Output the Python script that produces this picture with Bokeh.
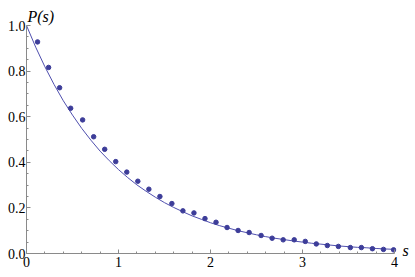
from bokeh.plotting import figure
from bokeh.models import Range1d, FixedTicker, Label, CustomJSTickFormatter, LinearAxis
from bokeh.embed import file_html
from bokeh.resources import INLINE

# ---- data ----
s_points = [0.12, 0.24, 0.36, 0.48, 0.61, 0.73, 0.85, 0.97, 1.09, 1.21, 1.33,
            1.45, 1.58, 1.70, 1.82, 1.94, 2.06, 2.18, 2.30, 2.42, 2.55, 2.67,
            2.79, 2.91, 3.03, 3.15, 3.27, 3.39, 3.52, 3.64, 3.76, 3.88, 3.99]
p_points = [0.928, 0.816, 0.727, 0.637, 0.586, 0.512, 0.457, 0.403, 0.357, 0.317, 0.282,
            0.250, 0.219, 0.187, 0.178, 0.153, 0.137, 0.114, 0.101, 0.092, 0.079, 0.067,
            0.060, 0.060, 0.053, 0.042, 0.035, 0.031, 0.026, 0.026, 0.021, 0.018, 0.016]

s_curve = [0.0, 0.1, 0.2, 0.3, 0.4, 0.5, 0.6, 0.7, 0.8, 0.9, 1.0, 1.1, 1.2, 1.3,
           1.4, 1.5, 1.6, 1.7, 1.8, 1.9, 2.0, 2.1, 2.2, 2.3, 2.4, 2.5, 2.6, 2.7,
           2.8, 2.9, 3.0, 3.1, 3.2, 3.3, 3.4, 3.5, 3.6, 3.7, 3.8, 3.9, 4.0]
p_curve = [1.000, 0.905, 0.819, 0.741, 0.670, 0.607, 0.549, 0.497, 0.449, 0.407, 0.368,
           0.333, 0.301, 0.273, 0.247, 0.223, 0.202, 0.183, 0.165, 0.150, 0.135, 0.122,
           0.111, 0.100, 0.091, 0.082, 0.074, 0.067, 0.061, 0.055, 0.050, 0.045, 0.041,
           0.037, 0.033, 0.030, 0.027, 0.025, 0.022, 0.020, 0.018]

x_ticks = [0, 1, 2, 3, 4]
x_tick_labels = ["0", "1", "2", "3", "4"]
x_minor = [0.2, 0.4, 0.6, 0.8, 1.2, 1.4, 1.6, 1.8, 2.2, 2.4, 2.6, 2.8,
           3.2, 3.4, 3.6, 3.8]
y_ticks = [0.0, 0.2, 0.4, 0.6, 0.8, 1.0]
y_tick_labels = ["0.0", "0.2", "0.4", "0.6", "0.8", "1.0"]
y_minor = [0.05, 0.1, 0.15, 0.25, 0.3, 0.35, 0.45, 0.5, 0.55, 0.65, 0.7, 0.75,
           0.85, 0.9, 0.95]
x_title = "s"
y_title = "P(s)"

BLUE = "#3d3d99"
LINE_BLUE = "#4f4fae"
AXIS = "#8a8a8a"
SERIF = "Liberation Serif"

# frame: left 26, right 396, top 5, bottom 253 (92 px per s unit, 228 px per P unit)
p = figure(width=415, height=277, output_backend="svg", toolbar_location=None,
           x_range=Range1d(0, 370 / 92), y_range=Range1d(0, 248 / 228),
           min_border_left=26, min_border_right=19, min_border_top=5,
           min_border_bottom=24)
p.outline_line_color = None
p.xgrid.visible = False
p.ygrid.visible = False

p.line(s_curve, p_curve, line_color=LINE_BLUE, line_width=1)
p.scatter(s_points, p_points, size=4.5, fill_color=BLUE, line_color=BLUE)

FMT = """
let best = '';
let d = 1e9;
for (let i = 0; i < tvals.length; i++) {
  const e = Math.abs(tvals[i] - tick);
  if (e < d) { d = e; best = tlabs[i]; }
}
return d < 1e-6 ? best : '';
"""

for ax, ticks, minor, labels in ((p.xaxis[0], x_ticks, x_minor, x_tick_labels),
                                 (p.yaxis[0], y_ticks, y_minor, y_tick_labels)):
    ax.ticker = FixedTicker(ticks=ticks, minor_ticks=minor)
    ax.formatter = CustomJSTickFormatter(args=dict(tvals=ticks, tlabs=labels), code=FMT)
    ax.axis_line_color = AXIS
    ax.major_tick_line_color = AXIS
    ax.minor_tick_line_color = AXIS
    ax.major_tick_in = 4
    ax.major_tick_out = 0
    ax.minor_tick_in = 2
    ax.minor_tick_out = 0
    ax.major_label_text_font = SERIF
    ax.major_label_text_font_size = "14px"
    ax.major_label_text_color = "black"

p.xaxis[0].bounds = (0, 4)
p.yaxis[0].bounds = (0, 1)
p.xaxis[0].major_label_standoff = 3
p.yaxis[0].major_label_standoff = 1

# "s" title at the right end of the s axis, drawn as a right-side axis label
s_axis = LinearAxis(ticker=FixedTicker(ticks=[0.012], minor_ticks=[]),
                    formatter=CustomJSTickFormatter(args=dict(t=x_title), code="return t;"))
s_axis.axis_line_color = None
s_axis.major_tick_line_color = None
s_axis.minor_tick_line_color = None
s_axis.major_tick_in = 0
s_axis.major_tick_out = 0
s_axis.major_label_standoff = 6
s_axis.major_label_text_font = SERIF
s_axis.major_label_text_font_style = "italic"
s_axis.major_label_text_font_size = "16px"
s_axis.major_label_text_color = "black"
p.add_layout(s_axis, "right")

p.add_layout(Label(x=0.01, y=1.0, text=y_title, text_font=SERIF,
                   text_font_style="italic", text_font_size="16px",
                   text_color="black", text_baseline="bottom", y_offset=1))

open("out.html", "w").write(file_html(p, INLINE))
